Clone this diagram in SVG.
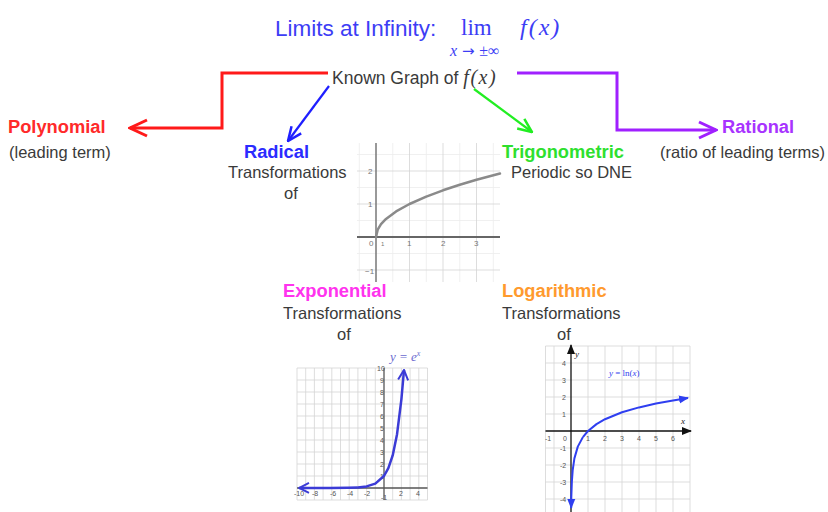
<svg xmlns="http://www.w3.org/2000/svg" width="828" height="512" viewBox="0 0 828 512">
<style>
  .reg { font-family: "Liberation Sans", Arial, sans-serif; font-size: 16.5px; fill: #3a3a3a; }
  .bold { font-family: "Liberation Sans", Arial, sans-serif; font-size: 18.3px; font-weight: bold; }
  .math { font-family: "Liberation Serif", "Times New Roman", serif; }
  .grid { stroke: #d4d4d4; stroke-width: 0.8; fill: none; }
  .gridm { stroke: #ececec; stroke-width: 0.8; fill: none; }
  .tick { font-family: "Liberation Sans", Arial, sans-serif; font-size: 7px; fill: #555; }
  .tick2 { font-family: "Liberation Sans", Arial, sans-serif; font-size: 8px; fill: #777; }
  .conn { fill: none; stroke-linejoin: miter; }
</style>
<defs>
  <marker id="arRed" markerUnits="userSpaceOnUse" viewBox="0 0 20 20" markerWidth="20" markerHeight="20" refX="18" refY="10" orient="auto">
    <path d="M1,2 L18,10 L1,18" fill="none" stroke="#ff1a1a" stroke-width="3"/>
  </marker>
  <marker id="arPurple" markerUnits="userSpaceOnUse" viewBox="0 0 20 20" markerWidth="20" markerHeight="20" refX="18" refY="10" orient="auto">
    <path d="M1,2 L18,10 L1,18" fill="none" stroke="#a020ff" stroke-width="3"/>
  </marker>
  <marker id="arBlue" markerUnits="userSpaceOnUse" viewBox="0 0 16 16" markerWidth="16" markerHeight="16" refX="15" refY="8" orient="auto">
    <path d="M1,2 L15,8 L1,14" fill="none" stroke="#1f1fff" stroke-width="2.5"/>
  </marker>
  <marker id="arGreen" markerUnits="userSpaceOnUse" viewBox="0 0 16 16" markerWidth="16" markerHeight="16" refX="15" refY="8" orient="auto">
    <path d="M1,2 L15,8 L1,14" fill="none" stroke="#22ee22" stroke-width="2.5"/>
  </marker>
  <marker id="arExp" markerUnits="userSpaceOnUse" viewBox="0 0 12 12" markerWidth="12" markerHeight="12" refX="11" refY="6" orient="auto">
    <path d="M1,1 L11,6 L1,11" fill="none" stroke="#3b3bd6" stroke-width="2"/>
  </marker>
  <marker id="arLog" markerUnits="userSpaceOnUse" viewBox="0 0 10 10" markerWidth="10" markerHeight="10" refX="9" refY="5" orient="auto">
    <path d="M0,1 L10,5 L0,9 Z" fill="#2f3ff0"/>
  </marker>
  <marker id="arAxis" markerUnits="userSpaceOnUse" viewBox="0 0 10 10" markerWidth="10" markerHeight="10" refX="9" refY="5" orient="auto">
    <path d="M0,1 L10,5 L0,9 Z" fill="#111"/>
  </marker>
</defs>

<rect width="828" height="512" fill="#ffffff"/>

<g id="title">
  <text x="275" y="36" style="font-family:'Liberation Sans',Arial,sans-serif;font-size:22.5px;fill:#3d3df5">Limits at Infinity:</text>
  <text x="461" y="35" class="math" style="font-size:23px;fill:#3d3df5">lim</text>
  <text x="450" y="56" class="math" style="font-size:16px;fill:#3d3df5"><tspan font-style="italic">x</tspan><tspan style="font-family:'DejaVu Sans',sans-serif;font-size:15px"> → </tspan><tspan>±∞</tspan></text>
  <text x="520" y="35" class="math" style="font-size:24px;font-style:italic;fill:#3d3df5;letter-spacing:2px">f(x)</text>
</g>

<g id="known">
  <text x="332" y="84" class="reg" style="font-size:17.5px">Known Graph of <tspan class="math" style="font-size:20px;font-style:italic;letter-spacing:1.5px">f(x)</tspan></text>
</g>

<g id="connectors">
  <polyline class="conn" points="328,73 222,73 222,128 130,128" stroke="#ff1a1a" stroke-width="3" marker-end="url(#arRed)"/>
  <polyline class="conn" points="517,73 617,73 617,130 716,130" stroke="#a020ff" stroke-width="3" marker-end="url(#arPurple)"/>
  <line x1="329" y1="86" x2="288" y2="141" stroke="#1f1fff" stroke-width="2.2" marker-end="url(#arBlue)"/>
  <line x1="474" y1="89" x2="532" y2="132" stroke="#22ee22" stroke-width="2.2" marker-end="url(#arGreen)"/>
</g>

<g id="polynomial">
  <text x="8" y="133" class="bold" fill="#ff2a2a">Polynomial</text>
  <text x="9" y="158" class="reg">(leading term)</text>
</g>

<g id="rational">
  <text x="722" y="133" class="bold" fill="#a833ff">Rational</text>
  <text x="660" y="158" class="reg">(ratio of leading terms)</text>
</g>

<g id="trigonometric">
  <text x="502" y="158" class="bold" fill="#2ee02e">Trigonometric</text>
  <text x="511" y="178" class="reg">Periodic so DNE</text>
</g>

<g id="radical">
  <text x="244" y="158" class="bold" fill="#2b2bff">Radical</text>
  <text x="228" y="178" class="reg">Transformations</text>
  <text x="284" y="199" class="reg">of</text>
  <g id="radical-graph">
    <rect x="357" y="143" width="143" height="139" fill="#fff"/>
    <path class="gridm" d="M359.25,143V282 M392.75,143V282 M426.25,143V282 M459.75,143V282 M493.25,143V282 M357,154.5H500 M357,187.5H500 M357,220.5H500 M357,253.5H500"/>
    <path class="grid" d="M409.5,143V282 M443,143V282 M476.5,143V282 M357,171H500 M357,204H500 M357,270H500"/>
    <line x1="357" y1="237" x2="500" y2="237" stroke="#666" stroke-width="2"/>
    <line x1="376" y1="143" x2="376" y2="282" stroke="#777" stroke-width="1.5"/>
    <polyline points="376,237 377.7,229.6 381,224.2 386,218.9 396.1,211.4 409.5,204 426.25,196.6 443,190.3 459.75,184.8 476.5,179.8 500,173.5" fill="none" stroke="#8a8a8a" stroke-width="2.5" stroke-linejoin="round" stroke-linecap="round"/>
    <text x="368" y="174" class="tick2">2</text>
    <text x="368" y="207" class="tick2">1</text>
    <text x="365" y="274" class="tick2">−1</text>
    <text x="369" y="246" class="tick2">0</text>
    <text x="381" y="246" class="tick2" style="font-size:6px">1</text>
    <text x="407" y="246" class="tick2">1</text>
    <text x="441" y="246" class="tick2">2</text>
    <text x="474" y="246" class="tick2">3</text>
  </g>
</g>

<g id="exponential">
  <text x="283" y="297" class="bold" fill="#ff33ee">Exponential</text>
  <text x="283" y="319" class="reg">Transformations</text>
  <text x="337" y="340" class="reg">of</text>
  <g id="exp-graph">
    <path class="grid" d="M297,368V500 M305.7,368V500 M314.4,368V500 M323.1,368V500 M331.8,368V500 M340.5,368V500 M349.2,368V500 M357.9,368V500 M366.6,368V500 M375.3,368V500 M392.7,368V500 M401.4,368V500 M410.1,368V500 M418.8,368V500 M427.5,368V500 M297,368H427.5 M297,380H427.5 M297,392H427.5 M297,404H427.5 M297,416H427.5 M297,428H427.5 M297,440H427.5 M297,452H427.5 M297,464H427.5 M297,476H427.5 M297,500H427.5"/>
    <line x1="297" y1="488" x2="427.5" y2="488" stroke="#555" stroke-width="1.3"/>
    <line x1="384" y1="368" x2="384" y2="500" stroke="#555" stroke-width="1.3"/>
    <g class="tick">
      <text x="377" y="371">10</text>
      <text x="380" y="383">9</text>
      <text x="380" y="395">8</text>
      <text x="380" y="407">7</text>
      <text x="380" y="419">6</text>
      <text x="380" y="431">5</text>
      <text x="380" y="443">4</text>
      <text x="380" y="455">3</text>
      <text x="380" y="467">2</text>
      <text x="380" y="479">1</text>
      <text x="381" y="500">-1</text>
      <text x="294" y="496">-10</text>
      <text x="312" y="496">-8</text>
      <text x="330" y="496">-6</text>
      <text x="347" y="496">-4</text>
      <text x="364" y="496">-2</text>
      <text x="399" y="496">2</text>
      <text x="416" y="496">4</text>
    </g>
    <polyline points="357.9,487.4 348,487.7 330,487.9 299,488" fill="none" stroke="#3b3bd6" stroke-width="2.5" marker-end="url(#arExp)"/>
    <polyline points="357.9,487.4 366.6,486.4 375.3,483.6 384,476 388.35,468.2 392.7,455.4 397.05,434.2 401.4,399.3 404,370" fill="none" stroke="#3b3bd6" stroke-width="2.5" stroke-linejoin="round" marker-end="url(#arExp)"/>
    <text x="390" y="361" class="math" style="font-size:13px;font-style:italic;fill:#6a6ad0">y = e<tspan dy="-5" style="font-size:8px">x</tspan></text>
  </g>
</g>

<g id="logarithmic">
  <text x="502" y="297" class="bold" fill="#ff9a2e">Logarithmic</text>
  <text x="502" y="319" class="reg">Transformations</text>
  <text x="557" y="340" class="reg">of</text>
  <g id="log-graph">
    <path class="grid" d="M545.5,346V512 M554,346V512 M588,346V512 M605,346V512 M622,346V512 M639,346V512 M656,346V512 M673,346V512 M690,346V512 M545.5,346H690 M545.5,363H690 M545.5,380H690 M545.5,397H690 M545.5,414H690 M545.5,448H690 M545.5,465H690 M545.5,482H690 M545.5,499H690"/>
    <line x1="545.5" y1="431" x2="691" y2="431" stroke="#111" stroke-width="1.3" marker-end="url(#arAxis)"/>
    <line x1="571" y1="512" x2="571" y2="345" stroke="#111" stroke-width="1.3" marker-end="url(#arAxis)"/>
    <g class="tick">
      <text x="562" y="366">4</text>
      <text x="562" y="383">3</text>
      <text x="562" y="400">2</text>
      <text x="562" y="417">1</text>
      <text x="560" y="451">-1</text>
      <text x="560" y="468">-2</text>
      <text x="560" y="485">-3</text>
      <text x="560" y="502">-4</text>
      <text x="545" y="441">-1</text>
      <text x="563" y="441">0</text>
      <text x="586" y="441">1</text>
      <text x="603" y="441">2</text>
      <text x="620" y="441">3</text>
      <text x="637" y="441">4</text>
      <text x="654" y="441">5</text>
      <text x="671" y="441">6</text>
    </g>
    <text x="575" y="357" class="math" style="font-size:9px;font-style:italic;fill:#222">y</text>
    <text x="681" y="424" class="math" style="font-size:9px;font-style:italic;fill:#222">x</text>
    <text x="609" y="376" class="math" style="font-size:9px;fill:#3344ee"><tspan font-style="italic">y</tspan> = ln(<tspan font-style="italic">x</tspan>)</text>
    <polyline points="582.9,437.1 577.8,446.6 574.4,458.4 572.7,470.1 571.85,482 571.3,497.5 571.2,508" fill="none" stroke="#2f3ff0" stroke-width="2" stroke-linejoin="round" marker-end="url(#arLog)"/>
    <polyline points="582.9,437.1 588,431 596.5,424.1 605,419.2 622,412.3 639,407.4 656,403.6 673,400.5 688,398" fill="none" stroke="#2f3ff0" stroke-width="2" stroke-linejoin="round" marker-end="url(#arLog)"/>
  </g>
</g>
</svg>
